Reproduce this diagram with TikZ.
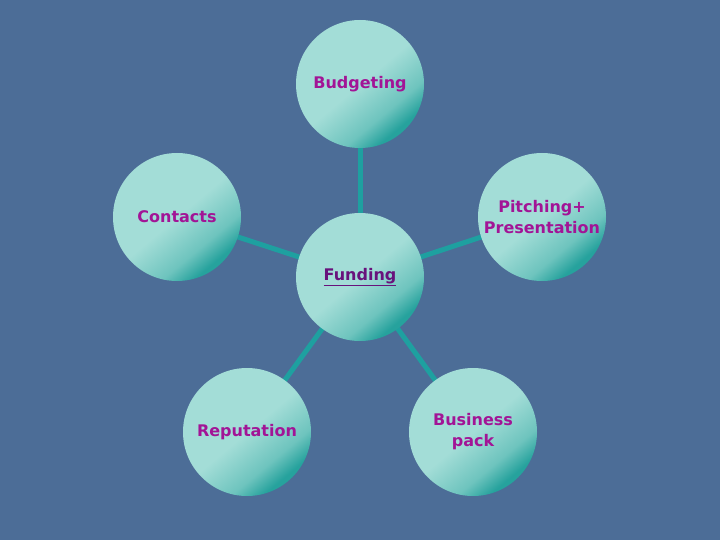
\documentclass[tikz,border=0pt]{standalone}
\usepackage{xcolor}
\usepackage{fontspec}
\setmainfont{DejaVu Sans}
\usepackage{tikz}
\usetikzlibrary{backgrounds}
\definecolor{slideblue}{RGB}{76,109,151}
\definecolor{cyanpale}{RGB}{163,221,215}
\definecolor{tealmid}{RGB}{110,196,190}
\definecolor{tealdeep}{RGB}{38,162,157}
\definecolor{linkteal}{RGB}{30,160,160}
\definecolor{topicpink}{RGB}{162,20,150}
\definecolor{hubpurple}{RGB}{104,18,124}
\pgfdeclareverticalshading{topicshade}{100bp}{color(0bp)=(tealdeep); color(27bp)=(tealdeep); color(35bp)=(tealmid); color(50bp)=(cyanpale); color(100bp)=(cyanpale)}
\tikzset{
  topic/.style={
    circle,
    minimum size=128pt,
    inner sep=0pt,
    shading=topicshade,
    shading angle=40,
    align=center,
    text=topicpink,
    font=\bfseries\fontsize{16}{21}\selectfont
  },
  hub/.style={topic, text=hubpurple},
  link/.style={draw=linkteal, line width=5pt}
}
\begin{document}
\begin{tikzpicture}[x=1pt, y=-1pt]
  \useasboundingbox (0,0) rectangle (720,540);

  \node[hub] (funding) at (360,277) {\underline{Funding}};
  \node[topic] (budget) at (360,84) {Budgeting};
  \node[topic] (contacts) at (177,217) {Contacts};
  \node[topic] (pitch) at (542,217) {Pitching+\\Presentation};
  \node[topic] (reputation) at (247,432) {Reputation};
  \node[topic] (business) at (473,432) {Business\\pack};

  \begin{pgfonlayer}{background}
    \fill[slideblue] (0,0) rectangle (720,540);
    \draw[link] (funding.center) -- (budget.center);
    \draw[link] (funding.center) -- (contacts.center);
    \draw[link] (funding.center) -- (pitch.center);
    \draw[link] (funding.center) -- (reputation.center);
    \draw[link] (funding.center) -- (business.center);
  \end{pgfonlayer}
\end{tikzpicture}
\end{document}
